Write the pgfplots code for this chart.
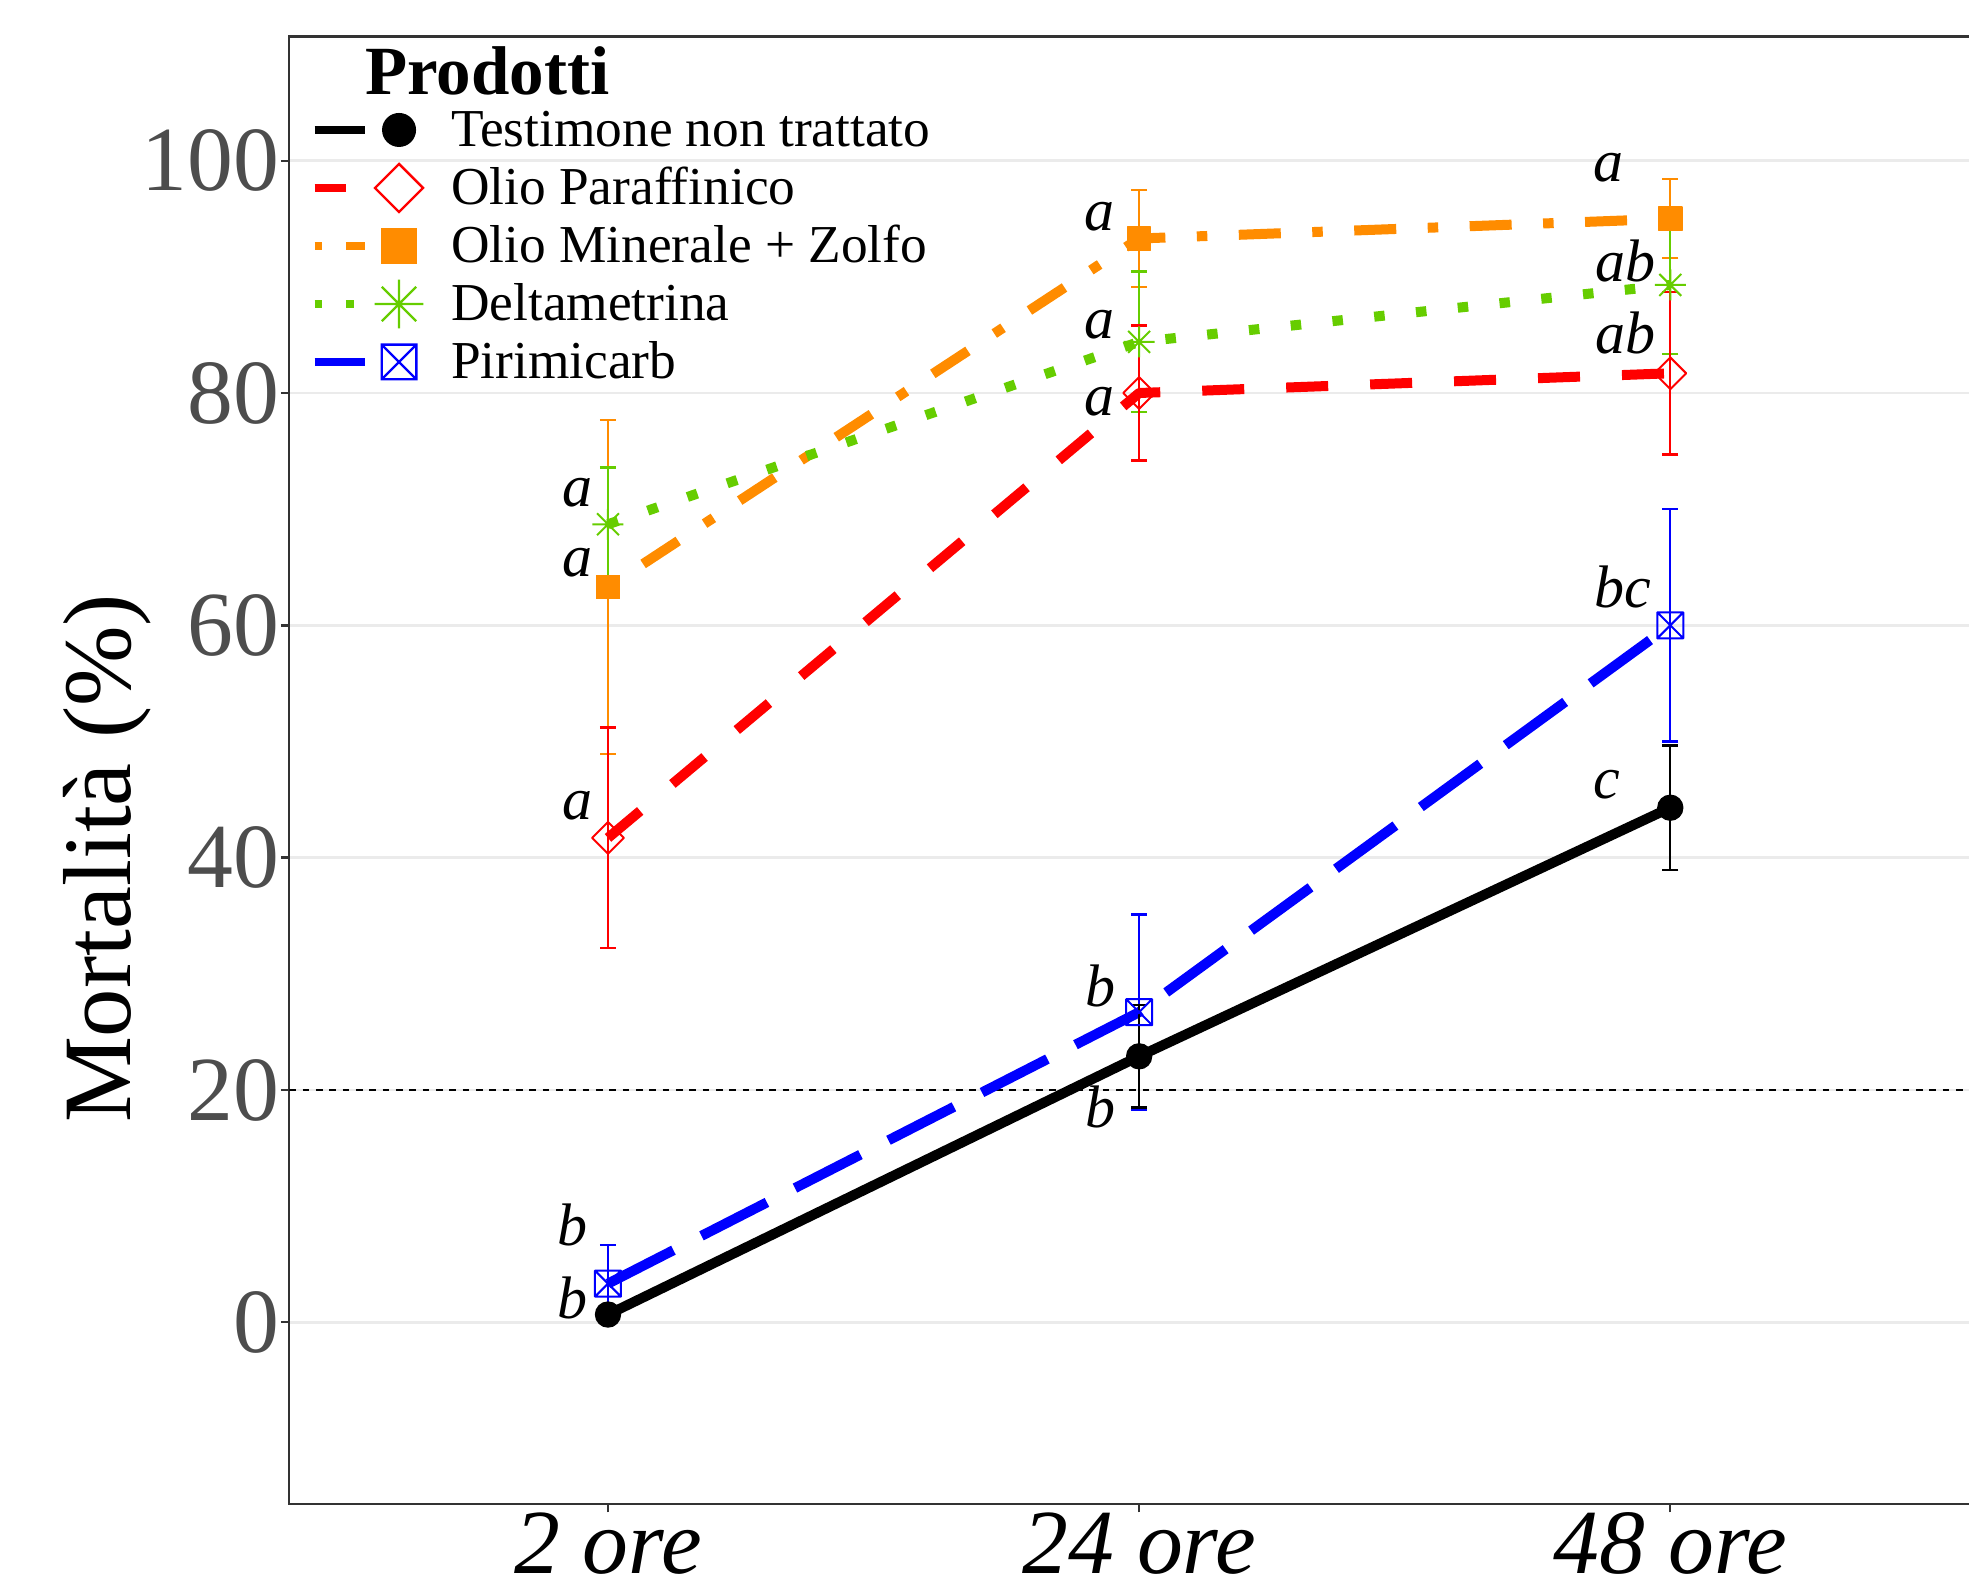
\documentclass[border=0pt]{standalone}
\usepackage{fontspec}
\setmainfont{Liberation Serif}
\usepackage{pgfplots}
\usepackage{pgfplotstable}
\pgfplotsset{compat=1.18}

\definecolor{cRed}{HTML}{FF0000}
\definecolor{cOrange}{HTML}{FF8C00}
\definecolor{cGreen}{HTML}{66CD00}
\definecolor{cBlue}{HTML}{0000FF}
\definecolor{tickgray}{HTML}{4D4D4D}
\definecolor{gridgray}{HTML}{EBEBEB}

% asterisk with 8 arms (R pch 8) and square with a cross (R pch 7)
\pgfdeclareplotmark{ast8}{%
  \pgfpathmoveto{\pgfqpoint{-\pgfplotmarksize}{0pt}}\pgfpathlineto{\pgfqpoint{\pgfplotmarksize}{0pt}}%
  \pgfpathmoveto{\pgfqpoint{0pt}{-\pgfplotmarksize}}\pgfpathlineto{\pgfqpoint{0pt}{\pgfplotmarksize}}%
  \pgfpathmoveto{\pgfqpoint{-.7071\pgfplotmarksize}{-.7071\pgfplotmarksize}}\pgfpathlineto{\pgfqpoint{.7071\pgfplotmarksize}{.7071\pgfplotmarksize}}%
  \pgfpathmoveto{\pgfqpoint{-.7071\pgfplotmarksize}{.7071\pgfplotmarksize}}\pgfpathlineto{\pgfqpoint{.7071\pgfplotmarksize}{-.7071\pgfplotmarksize}}%
  \pgfusepathqstroke}
\pgfdeclareplotmark{boxx}{%
  \pgfpathrectangle{\pgfqpoint{-\pgfplotmarksize}{-\pgfplotmarksize}}{\pgfqpoint{2\pgfplotmarksize}{2\pgfplotmarksize}}%
  \pgfpathmoveto{\pgfqpoint{-\pgfplotmarksize}{-\pgfplotmarksize}}\pgfpathlineto{\pgfqpoint{\pgfplotmarksize}{\pgfplotmarksize}}%
  \pgfpathmoveto{\pgfqpoint{-\pgfplotmarksize}{\pgfplotmarksize}}\pgfpathlineto{\pgfqpoint{\pgfplotmarksize}{-\pgfplotmarksize}}%
  \pgfusepathqstroke}

% x: 1 = 2 ore, 2 = 24 ore, 3 = 48 ore
\pgfplotstableread{
x y e
1 0.67 0.67
2 22.9 4.4
3 44.3 5.35
}\testimone
\pgfplotstableread{
x y e
1 41.7 9.5
2 80.0 5.8
3 81.7 7.0
}\paraffinico
\pgfplotstableread{
x y e
1 63.3 14.35
2 93.3 4.2
3 95.0 3.4
}\minerale
\pgfplotstableread{
x y e
1 68.7 4.9
2 84.4 6.05
3 89.3 5.95
}\deltametrina
\pgfplotstableread{
x y e
1 3.33 3.33
2 26.7 8.4
3 60.0 10.0
}\pirimicarb
\pgfplotstableread{
x y lab
0.942 70.2 a
0.942 64.2 a
0.942 43.3 a
0.933 6.65 b
0.933 0.37 b
1.925 94.0 a
1.925 84.7 a
1.925 78.1 a
1.927 27.2 b
1.927 16.8 b
2.883 98.2 a
2.915 89.6 ab
2.915 83.4 ab
2.911 61.5 bc
2.880 45.1 c
}\lettere

\pgfplotsset{
  serie/.style={forget plot, line width=3pt, line cap=butt, line join=round,
    /pgfplots/error bars/y dir=both,
    /pgfplots/error bars/y explicit,
    /pgfplots/error bars/error bar style={solid, line width=0.7pt, #1},
    /pgfplots/error bars/error mark options={rotate=90, solid, line width=0.7pt, mark size=2.4pt, #1}},
}

\begin{document}
\begin{tikzpicture}
\useasboundingbox (-86.79pt,-22.2pt) rectangle (503.91pt,451.2pt);
\begin{axis}[
  at={(0pt,0pt)}, anchor=south west,
  scale only axis, width=509.91pt, height=440.28pt,
  xmin=0.4, xmax=3.6, ymin=-15.64, ymax=110.7,
  xtick={1,2,3}, xticklabels={2 ore,24 ore,48 ore},
  ytick={0,20,40,60,80,100},
  xtick pos=lower, ytick pos=left,
  tick align=outside, major tick length=2.5pt,
  tick style={black!80, line width=0.7pt},
  axis line style={black!80, line width=0.7pt},
  ymajorgrids, grid style={gridgray, line width=0.8pt},
  /pgf/number format/assume math mode=true,
  yticklabel style={font=\fontsize{27.5}{27.5}\selectfont, text=tickgray, inner sep=0pt, anchor=east, xshift=-0.3pt},
  xticklabel style={font=\fontsize{27.5}{27.5}\selectfont\itshape, text=black, inner sep=0pt, anchor=north, yshift=0.2pt},
  ylabel={Mortalità (\%)},
  ylabel style={at={(axis description cs:-0.0937,0.4398)}, anchor=base, inner sep=0pt, font=\fontsize{29}{29}\selectfont},
  legend style={at={(axis description cs:0.0124,0.9544)}, anchor=north west,
    draw=none, fill=none, inner sep=0pt, outer sep=0pt,
    row sep=1.4pt, column sep=0pt, cells={anchor=west},
    nodes={inner sep=0pt, text height=10pt, text depth=0pt},
    font=\fontsize{16}{16}\selectfont},
]
% soglia al 20%
\addplot[forget plot, black, line width=0.6pt, dash pattern=on 2pt off 2pt] coordinates {(0.4,20) (3.6,20)};

\addplot[serie=cBlue, cBlue, dash pattern=on 22.05pt off 9.45pt, mark=boxx, mark size=3.9pt,
  mark options={solid, line width=0.6pt}]
  table[x=x, y=y, y error=e] \pirimicarb;
\addplot[serie=cOrange, cOrange, dash pattern=on 3.15pt off 9.45pt on 12.6pt off 9.45pt,
  mark=square*, mark size=3.5pt, mark options={solid, line width=0.4pt, fill=cOrange}]
  table[x=x, y=y, y error=e] \minerale;
\addplot[serie=cGreen, cGreen, dash pattern=on 3.15pt off 9.45pt, mark=ast8, mark size=4.65pt,
  mark options={solid, line width=0.6pt}]
  table[x=x, y=y, y error=e] \deltametrina;
\addplot[serie=cRed, cRed, dash pattern=on 12.6pt off 12.6pt, mark=square, mark size=3.36pt,
  mark options={solid, line width=0.6pt, rotate=45}]
  table[x=x, y=y, y error=e] \paraffinico;
\addplot[serie=black, black, mark=*, mark size=3.75pt, mark options={solid, line width=0.4pt, fill=black}]
  table[x=x, y=y, y error=e] \testimone;

% lettere di significativita
\addplot[forget plot, only marks, mark=none, nodes near coords, point meta=explicit symbolic,
  nodes near coords style={anchor=base, inner sep=0pt, text=black, font=\fontsize{18}{18}\selectfont\itshape}]
  table[x=x, y=y, meta=lab] \lettere;

% legenda
\addlegendimage{legend image code/.code={
  \path[draw=none, fill=none] (0pt,-8pt) rectangle (41pt,8pt);
  \draw[black, line width=2.5pt, line cap=butt] (0pt,0pt) -- (15pt,0pt);
  \draw[black, fill=black, line width=0.6pt] plot[mark=*, mark size=4.8pt] coordinates {(25.35pt,0pt)};}}
\addlegendentry{Testimone non trattato}
\addlegendimage{legend image code/.code={
  \path[draw=none, fill=none] (0pt,-8pt) rectangle (41pt,8pt);
  \draw[cRed, line width=2.5pt, line cap=butt, dash pattern=on 9.4pt off 9.4pt] (0pt,0pt) -- (15pt,0pt);
  \draw[cRed, line width=0.7pt] plot[mark=square, mark size=5.1pt, mark options={rotate=45}] coordinates {(25.35pt,0pt)};}}
\addlegendentry{Olio Paraffinico}
\addlegendimage{legend image code/.code={
  \path[draw=none, fill=none] (0pt,-8pt) rectangle (41pt,8pt);
  \draw[cOrange, line width=2.5pt, line cap=butt, dash pattern=on 2.35pt off 7.05pt on 9.4pt off 7.05pt] (0pt,0pt) -- (15pt,0pt);
  \draw[cOrange, fill=cOrange, line width=0.6pt] plot[mark=square*, mark size=5pt] coordinates {(25.35pt,0pt)};}}
\addlegendentry{Olio Minerale + Zolfo}
\addlegendimage{legend image code/.code={
  \path[draw=none, fill=none] (0pt,-8pt) rectangle (41pt,8pt);
  \draw[cGreen, line width=2.5pt, line cap=butt, dash pattern=on 2.35pt off 7.05pt] (0pt,0pt) -- (15pt,0pt);
  \draw[cGreen, line width=0.7pt] plot[mark=ast8, mark size=7.3pt] coordinates {(25.35pt,0pt)};}}
\addlegendentry{Deltametrina}
\addlegendimage{legend image code/.code={
  \path[draw=none, fill=none] (0pt,-8pt) rectangle (41pt,8pt);
  \draw[cBlue, line width=2.5pt, line cap=butt] (0pt,0pt) -- (15pt,0pt);
  \draw[cBlue, line width=0.7pt] plot[mark=boxx, mark size=5.2pt] coordinates {(25.35pt,0pt)};}}
\addlegendentry{Pirimicarb}

\node[anchor=base west, inner sep=0pt, font=\fontsize{20.7}{20.7}\selectfont\bfseries]
  at (axis description cs:0.0443,0.9601) {Prodotti};
\end{axis}
\end{tikzpicture}
\end{document}
